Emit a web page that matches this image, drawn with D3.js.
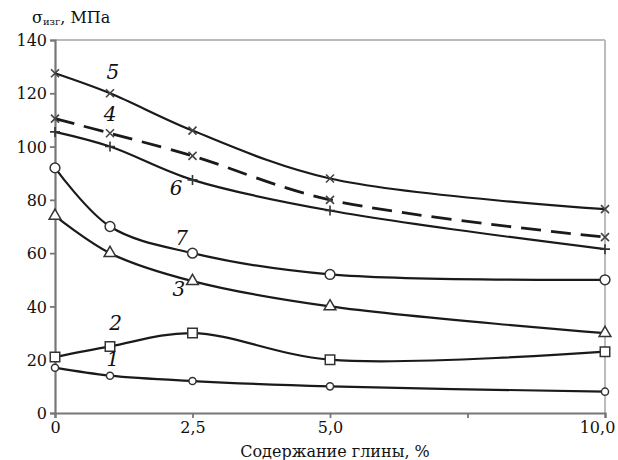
<!DOCTYPE html>
<html>
<head>
<meta charset="utf-8">
<script src="https://cdn.jsdelivr.net/npm/d3@7"></script>
<style>
	body{margin:0;background:#fff;}
	svg text{font-family:"DejaVu Serif","Liberation Serif",serif;fill:#111;}
</style>
</head>
<body>
<div id="grafico"></div>
<script>
// contenido de arcilla, %
const xVals = [0, 1, 2.5, 5, 10]
const xTicks = [0, 2.5, 5, 7.5, 10]
const xTickLabels = ["0", "2,5", "5,0", "", "10,0"]
const yTicks = [0, 20, 40, 60, 80, 100, 120, 140]

const s1 = [17, 14, 12, 10, 8]
const s2 = [21, 25, 30, 20, 23]
const s3 = [74, 60, 49.5, 40, 30]
const s4 = [110.5, 105, 96.5, 80, 66]
const s5 = [127.5, 120, 106, 88, 76.5]
const s6 = [105.5, 100, 87.5, 76, 61.5]
const s7 = [92, 70, 60, 52, 50]

const seriesNames = ["1", "2", "3", "4", "5", "6", "7"]
const seriesVals = [s1, s2, s3, s4, s5, s6, s7]
const seriesMarks = ["smallcircle", "square", "triangle", "x", "x", "plus", "circle"]
// posicion de los numeros de curva (en unidades de datos)
const labelX = [1.05, 1.1, 2.25, 1.0, 1.05, 2.2, 2.3]
const labelY = [17.5, 31, 44, 109.5, 125.5, 82, 63]

const svg = d3.select("#grafico").append("svg")
	.attr("width", 618).attr("height", 460)

const x = d3.scaleLinear().domain([0, 10]).range([55, 605])
const y = d3.scaleLinear().domain([0, 140]).range([413, 40])

// marco gris
svg.append("line").attr("x1", x(0)).attr("x2", x(10)).attr("y1", y(140)).attr("y2", y(140))
	.attr("stroke", "#bbb").attr("stroke-width", 2)
svg.append("line").attr("x1", x(10)).attr("x2", x(10)).attr("y1", y(140)).attr("y2", y(0))
	.attr("stroke", "#bbb").attr("stroke-width", 2)

const ejeX = svg.append("g").attr("transform", "translate(0," + y(0) + ")")
	.call(d3.axisBottom(x).tickValues(xTicks).tickFormat((d, i) => xTickLabels[i]).tickSize(5).tickPadding(4))
const ejeY = svg.append("g").attr("transform", "translate(" + x(0) + ",0)")
	.call(d3.axisLeft(y).tickValues(yTicks).tickSize(5).tickPadding(3))
;[ejeX, ejeY].forEach(g => {
	g.attr("font-family", null)
	g.select(".domain").attr("stroke", "#777").attr("stroke-width", 2.2)
	g.selectAll(".tick line").attr("stroke", "#777").attr("stroke-width", 1.8)
	g.selectAll(".tick text").style("font-size", "16px").attr("fill", "#111")
})
ejeY.selectAll(".tick text").attr("dy", "0.35em")
// la ultima etiqueta queda algo a la izquierda, como en el original
ejeX.selectAll(".tick text").filter(d => d == 10).attr("dx", -8)

// titulos
svg.append("text").attr("x", 335).attr("y", 457).attr("text-anchor", "middle")
	.style("font-size", "16px").text("Содержание глины, %")
const tY = svg.append("text").attr("x", 32).attr("y", 23).style("font-size", "16px")
tY.append("tspan").text("σ")
tY.append("tspan").style("font-size", "10px").attr("dy", 2).text("изг")
tY.append("tspan").attr("dy", -2).text(", МПа")

const linea = d3.line().x((d, i) => x(xVals[i])).y(d => y(d)).curve(d3.curveCatmullRom.alpha(0.5))

seriesVals.forEach((vals, k) => {
	const dash = seriesNames[k] == "4"
	svg.append("path").datum(vals).attr("d", linea)
		.attr("fill", "none").attr("stroke", "#1a1a1a").attr("stroke-width", dash ? 2.8 : 2.2)
		.attr("stroke-dasharray", dash ? "20,10" : null)
})

function marcador(g, tipo){
	if(tipo == "x"){
		g.append("path").attr("d", "M-4,-4L4,4M-4,4L4,-4").attr("stroke", "#444").attr("stroke-width", 1.6).attr("fill", "none")
	}else if(tipo == "plus"){
		g.append("path").attr("d", "M-5,0L5,0M0,-5L0,5").attr("stroke", "#333").attr("stroke-width", 1.6).attr("fill", "none")
	}else{
		let sym = d3.symbolCircle, size = 75
		if(tipo == "square"){ sym = d3.symbolSquare; size = 90 }
		if(tipo == "triangle"){ sym = d3.symbolTriangle; size = 60 }
		if(tipo == "smallcircle"){ size = 40 }
		g.append("path").attr("d", d3.symbol().type(sym).size(size)())
			.attr("fill", "#fff").attr("stroke", "#333").attr("stroke-width", 1.5)
	}
}

seriesVals.forEach((vals, k) => {
	vals.forEach((v, i) => {
		const g = svg.append("g").attr("transform", "translate(" + x(xVals[i]) + "," + y(v) + ")")
		marcador(g, seriesMarks[k])
	})
})

seriesNames.forEach((n, k) => {
	svg.append("text").attr("x", x(labelX[k])).attr("y", y(labelY[k]))
		.attr("text-anchor", "middle").style("font-size", "20px").style("font-style", "italic")
		.text(n)
})
</script>
</body>
</html>
